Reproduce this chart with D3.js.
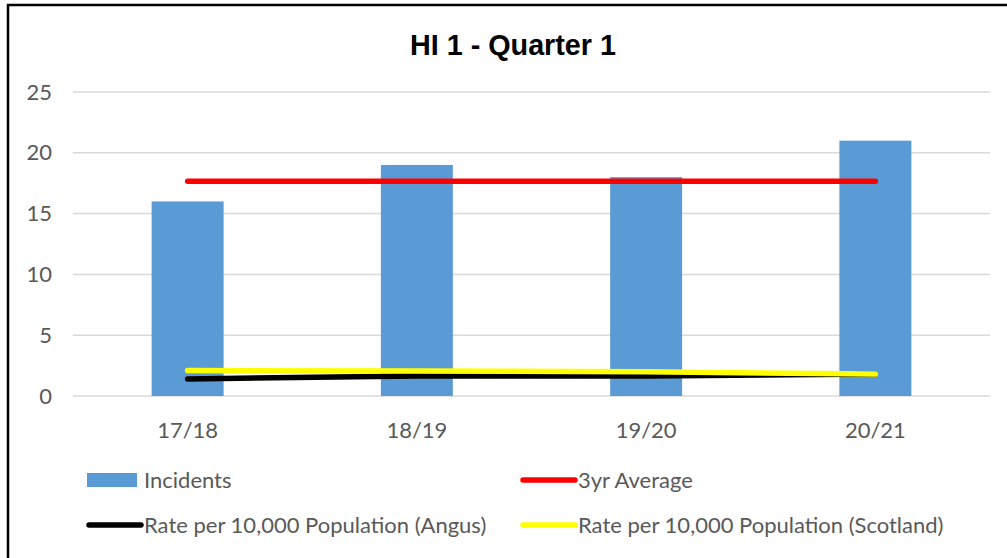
<!DOCTYPE html>
<html>
<head>
<meta charset="utf-8">
<script src="https://cdn.jsdelivr.net/npm/d3@7"></script>
<style>
  body { margin: 0; background: #fff; }
  svg { display: block; }
</style>
</head>
<body>
<div id="chart"></div>
<script>
// chart values
const categories = ["17/18", "18/19", "19/20", "20/21"];
const incidents = [16, 19, 18, 21];
const threeYrAverage = [17.67, 17.67, 17.67, 17.67];
const rateAngus = [1.4, 1.65, 1.65, 1.8];
const rateScotland = [2.1, 2.05, 2.0, 1.8];
const yTicks = [0, 5, 10, 15, 20, 25];
const title = "HI 1 - Quarter 1";

const W = 1007, H = 558;
const plot = { left: 73, right: 990, top: 92, bottom: 396 };
const labelFont = "Lato, 'Noto Sans', sans-serif";
const labelSize = 22;

const svg = d3.select("#chart")
    .append("svg")
    .attr("width", W)
    .attr("height", H);

// outer frame (runs off the right and bottom edges)
svg.append("rect")
    .attr("x", 8).attr("y", 5)
    .attr("width", W + 20).attr("height", H + 20)
    .attr("fill", "none")
    .attr("stroke", "#000")
    .attr("stroke-width", 2.5);

// scales
const x = d3.scaleBand()
    .domain(categories)
    .range([plot.left, plot.right])
    .paddingInner(0.686)
    .paddingOuter(0.343);
const y = d3.scaleLinear()
    .domain([0, 25])
    .range([plot.bottom, plot.top]);
const cx = c => x(c) + x.bandwidth() / 2;

// gridlines
svg.append("g")
    .selectAll("line")
    .data(yTicks)
    .join("line")
    .attr("x1", plot.left).attr("x2", plot.right)
    .attr("y1", d => y(d)).attr("y2", d => y(d))
    .attr("stroke", "#d9d9d9")
    .attr("stroke-width", 1.5);

// y axis labels
const yAxis = svg.append("g")
    .attr("transform", `translate(${plot.left - 21},0)`)
    .call(d3.axisLeft(y).tickValues(yTicks).tickSize(0).tickPadding(0));
yAxis.select(".domain").remove();
yAxis.selectAll("text")
    .attr("font-family", labelFont)
    .attr("font-size", labelSize)
    .attr("fill", "#595959");

// x axis labels
const xAxis = svg.append("g")
    .attr("transform", `translate(0,${plot.bottom})`)
    .call(d3.axisBottom(x).tickSize(0).tickPadding(26));
xAxis.select(".domain").remove();
xAxis.selectAll("text")
    .attr("font-family", labelFont)
    .attr("font-size", labelSize)
    .attr("fill", "#595959");

// bars
svg.append("g")
    .selectAll("rect")
    .data(incidents)
    .join("rect")
    .attr("x", (d, i) => x(categories[i]))
    .attr("y", d => y(d))
    .attr("width", x.bandwidth())
    .attr("height", d => y(0) - y(d))
    .attr("fill", "#5b9bd5");

// lines
const line = d3.line()
    .x((d, i) => cx(categories[i]))
    .y(d => y(d));

const series = [
    { values: threeYrAverage, color: "#ff0000" },
    { values: rateAngus, color: "#000000" },
    { values: rateScotland, color: "#ffff00" }
];
series.forEach(s => {
    svg.append("path")
        .datum(s.values)
        .attr("d", line)
        .attr("fill", "none")
        .attr("stroke", s.color)
        .attr("stroke-width", 5.5)
        .attr("stroke-linecap", "round")
        .attr("stroke-linejoin", "round");
});

// title
svg.append("text")
    .attr("x", 513).attr("y", 55)
    .attr("text-anchor", "middle")
    .attr("font-family", "'Liberation Sans Narrow', 'Arial Narrow', 'Liberation Sans', sans-serif")
    .attr("font-weight", "bold")
    .attr("font-size", 30)
    .attr("textLength", 206)
    .attr("lengthAdjust", "spacingAndGlyphs")
    .attr("fill", "#000")
    .text(title);

// legend
const legendItems = [
    { label: "Incidents", type: "bar", color: "#5b9bd5", x: 87, y: 480 },
    { label: "3yr Average", type: "line", color: "#ff0000", x: 521, y: 480 },
    { label: "Rate per 10,000 Population (Angus)", type: "line", color: "#000000", x: 87, y: 525 },
    { label: "Rate per 10,000 Population (Scotland)", type: "line", color: "#ffff00", x: 521, y: 525 }
];
const legend = svg.append("g")
    .selectAll("g")
    .data(legendItems)
    .join("g")
    .attr("transform", d => `translate(${d.x},${d.y})`);
legend.filter(d => d.type === "bar")
    .append("rect")
    .attr("x", 0).attr("y", -7)
    .attr("width", 50).attr("height", 14)
    .attr("fill", d => d.color);
legend.filter(d => d.type === "line")
    .append("line")
    .attr("x1", 2).attr("x2", 54)
    .attr("y1", 0).attr("y2", 0)
    .attr("stroke", d => d.color)
    .attr("stroke-width", 5.5)
    .attr("stroke-linecap", "round");
legend.append("text")
    .attr("x", 57)
    .attr("y", 0)
    .attr("dy", "0.35em")
    .attr("font-family", labelFont)
    .attr("font-size", labelSize)
    .attr("fill", "#595959")
    .text(d => d.label);
</script>
</body>
</html>
